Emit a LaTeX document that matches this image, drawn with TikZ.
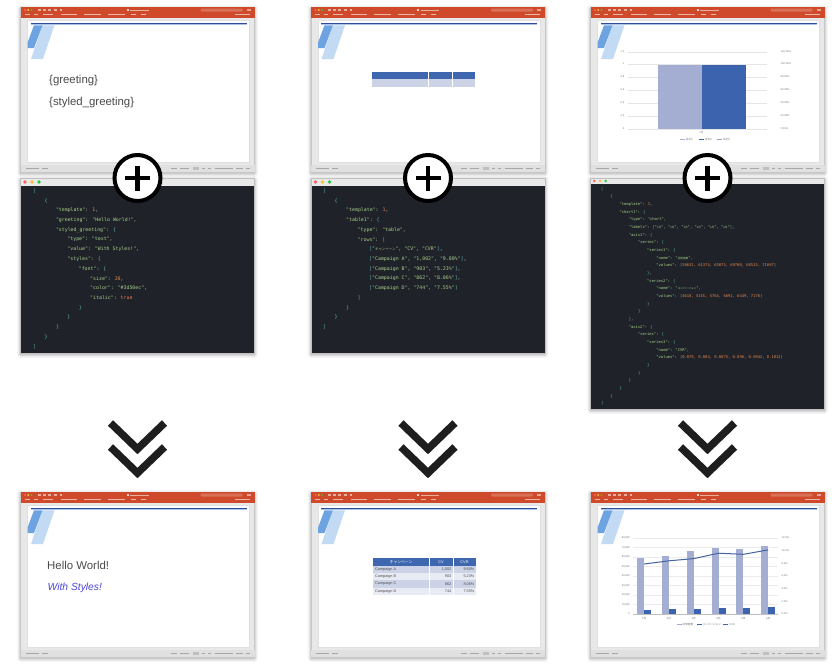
\documentclass[tikz,border=0pt]{standalone}
\usepackage{fontspec}
\setmainfont{Liberation Sans}
\newfontfamily\codefont{DejaVu Sans Mono}
\newfontfamily\cjk{Noto Sans CJK JP}
\newfontfamily\cjks{Noto Sans CJK JP}[Scale=0.7]
\definecolor{pptorange}{HTML}{CF4A2A}
\definecolor{winframe}{HTML}{E8E8E8}
\definecolor{statusbar}{HTML}{E0E0E0}
\definecolor{topline}{HTML}{2D4D96}
\definecolor{toplinelight}{HTML}{A9C4E8}
\definecolor{paradark}{HTML}{6EA3E2}
\definecolor{paralight}{HTML}{C2DAF3}
\definecolor{slidetext}{HTML}{4A4A4A}
\definecolor{styledblue}{HTML}{4E45D6}
\definecolor{tblhead}{HTML}{3E67B0}
\definecolor{tblrowa}{HTML}{CDD3E6}
\definecolor{tblrowb}{HTML}{E8EBF4}
\definecolor{barlight}{HTML}{A4AED3}
\definecolor{bardark}{HTML}{3B63AE}
\definecolor{cvrline}{HTML}{44639F}
\definecolor{codebg}{HTML}{1F2228}
\definecolor{codebar}{HTML}{E9E9E9}
\definecolor{ckey}{HTML}{A8D08D}
\definecolor{cbr}{HTML}{5BB5B9}
\definecolor{cnum}{HTML}{E5874F}
\definecolor{tlred}{HTML}{FF5F57}
\definecolor{tlyellow}{HTML}{FEBC2E}
\definecolor{tlgreen}{HTML}{28C840}
\definecolor{chev}{HTML}{1E1E1E}

\newcommand\Kc[1]{\textcolor{ckey}{#1}}
\newcommand\Bc[1]{\textcolor{cbr}{#1}}
\newcommand\Nc[1]{\textcolor{cnum}{#1}}
\newcounter{cline}
\newcommand\cl[2]{\stepcounter{cline}\node[codetxt, name=\cpfx-\the\value{cline}] at ({\cxo+#1*\cind},{\cyo+(\the\value{cline}-1)*\csp}) {#2};}

\newcommand\softshadow[4]{%
  \foreach \s/\o in {3.5/0.03,2.5/0.045,1.5/0.06,0.6/0.08}{%
    \fill[black,opacity=\o,rounded corners=\s pt] ({#1-\s},{#2-\s+1.5}) rectangle ({#3+\s},{#4+\s+1.5});
  }}

\newcommand\pptwin[3]{%
  \softshadow{#2}{#3}{#2+234}{#3+165}
  \begin{scope}[shift={(#2,#3)}]
    \node[fill=winframe, draw=black!22, line width=0.3pt, minimum width=234pt, minimum height=165pt,
          anchor=north west, inner sep=0pt, outer sep=0pt] (#1) at (0,0) {};
    \fill[pptorange] (0,0) rectangle (234,11);
    \fill[tlred] (4.5,3) circle (1.1pt);
    \fill[tlyellow] (7.7,3) circle (1.1pt);
    \fill[tlgreen] (10.9,3) circle (1.1pt);
    \foreach \a/\b in {17/20,22/25,27/30,33/36,39/41}{\fill[white,opacity=0.55] (\a,2.2) rectangle (\b,4);}
    \fill[white,opacity=0.75] (106,2.2) rectangle (108,4);
    \fill[white,opacity=0.55] (109.5,2.6) rectangle (128,3.6);
    \fill[white,opacity=0.22,rounded corners=1pt] (180,1.5) rectangle (222,4.6);
    \fill[white,opacity=0.5] (226,1.8) rectangle (230,4.3);
    \foreach \a/\b in {4/9,13/17,22/32,40/56,63/80,87/104,110/115,120/125}{\fill[white,opacity=0.6] (\a,6.9) rectangle (\b,8.3);}
    \fill[white,opacity=0.6] (214,6.9) rectangle (229,8.3);
    \fill[white] (7,13) rectangle (229,155);
    \draw[black!12,line width=0.3pt] (7,13) rectangle (229,155);
    \fill[topline] (10,16) rectangle (226,17.4);
    \fill[toplinelight] (10,17.4) rectangle (226,18.3);
    \begin{scope}
      \clip (7,13) rectangle (229,155);
      \fill[paralight] (22,18.3) -- (34,18.3) -- (22.5,52) -- (10.5,52) -- cycle;
      \fill[paradark] (13.5,18.3) -- (22,18.3) -- (13.5,41) -- (5,41) -- cycle;
    \end{scope}
    \fill[statusbar] (0,158) rectangle (234,165);
    \foreach \a/\b in {5/18,21/27,150/156,159/168,181/184,187/190,194/212,215/222,225/229}{\fill[black!35] (\a,161) rectangle (\b,162);}
    \fill[black!25] (172,159.8) rectangle (178,163.2);
  \end{scope}}

\newcommand\codewin[6]{%
  \softshadow{#2}{#3}{#4}{#5}
  \path[fill=codebg] (#2,#3) coordinate (#1-nw) rectangle (#4,#5) coordinate (#1-se);
  \fill[codebar] (#2,#3) rectangle (#4,{#3+#6});
  \draw[black!25, line width=0.3pt] (#2,#3) rectangle (#4,#5);}

\begin{document}
\begin{tikzpicture}[x=1pt,y=-1pt,
  codetxt/.style={anchor=west, inner sep=0pt, text=ckey, font=\codefont\fontsize{\cfs}{\cfs}\selectfont},
  slidetxt/.style={anchor=base west, inner sep=0pt, text=slidetext, font=\fontsize{11.4}{12}\selectfont},
  tinytxt/.style={inner sep=0pt, text=black!55, font=\fontsize{2.6}{3}\selectfont},
  tbltxt/.style={inner sep=0pt, text=black!70, font=\fontsize{3.8}{4}\selectfont},
  plusc/.style={circle, draw=black, line width=4pt, fill=white, minimum size=46pt, inner sep=0pt},
  plusbar/.style={line width=4.6pt, black},
  chevron/.style={line width=7.5pt, chev, line join=miter},
]
\useasboundingbox (0,0) rectangle (840,670);
\fill[white] (0,0) rectangle (840,670);

% ================= top templates =================
\pptwin{win1}{20.5}{7}
\begin{scope}[shift={(20.5,7)}]
  \node[slidetxt] (tplgreet) at (28.5,76) {\{greeting\}};
  \node[slidetxt] (tplstyled) at (28.5,98.5) {\{styled\_greeting\}};
\end{scope}

\pptwin{win2}{311}{7}
\begin{scope}[shift={(311,7)}]
  \fill[tblhead] (61,65) rectangle (164,72.3);
  \fill[tblrowa] (61,72.3) rectangle (164,80);
  \draw[white, line width=0.5pt] (117,65) -- (117,80) (141,65) -- (141,80);
\end{scope}

\pptwin{win3}{590.5}{7}
\begin{scope}[shift={(590.5,7)}]
  \foreach \yy/\ll/\rr in {45/1.2/120.00\%,57/1/100.00\%,70/0.8/80.00\%,83/0.6/60.00\%,96/0.4/40.00\%,109/0.2/20.00\%,122/0/0.00\%}{
    \draw[black!10, line width=0.3pt] (37,\yy) -- (176,\yy);
    \node[tinytxt, anchor=east] at (34,\yy) {\ll};
    \node[tinytxt, anchor=west] at (190,\yy) {\rr};
  }
  \fill[barlight] (67,57.5) rectangle (111,122);
  \fill[bardark] (111,57.5) rectangle (155,122);
  \node[tinytxt] at (111,126) {\cjk 1月};
  \fill[barlight] (89.5,131.5) rectangle (94.5,132.7);
  \node[tinytxt, anchor=west] at (95.5,132.1) {\cjk 系列1};
  \fill[bardark] (108.5,131.5) rectangle (113.5,132.7);
  \node[tinytxt, anchor=west] at (114.5,132.1) {\cjk 系列2};
  \fill[barlight!80!bardark] (126.5,131.5) rectangle (131.5,132.7);
  \node[tinytxt, anchor=west] at (132.5,132.1) {\cjk 系列3};
\end{scope}

% ================= code panels =================
\codewin{code1}{20.5}{178}{254.5}{353}{8}
\fill[tlred] (25,182) circle (1.9pt);
\fill[tlyellow] (32,182) circle (1.9pt);
\fill[tlgreen] (39,182) circle (1.9pt);
\def\cpfx{c1}\def\cxo{33}\def\cyo{191}\def\cind{11.4}\def\csp{9.73}\def\cfs{4.9}
\setcounter{cline}{0}
\cl{0}{\Bc{[}}
\cl{1}{\Bc{\{}}
\cl{2}{\Kc{"template": }\Nc{1}\Kc{,}}
\cl{2}{\Kc{"greeting": "Hello World!",}}
\cl{2}{\Kc{"styled\_greeting": }\Bc{\{}}
\cl{3}{\Kc{"type": "text",}}
\cl{3}{\Kc{"value": "With Styles!",}}
\cl{3}{\Kc{"styles": }\Bc{\{}}
\cl{4}{\Kc{"font": }\Bc{\{}}
\cl{5}{\Kc{"size": }\Nc{20}\Kc{,}}
\cl{5}{\Kc{"color": "\#3d50ec",}}
\cl{5}{\Kc{"italic": }\Nc{true}}
\cl{4}{\Bc{\}}}
\cl{3}{\Bc{\}}}
\cl{2}{\Bc{\}}}
\cl{1}{\Bc{\}}}
\cl{0}{\Bc{]}}

\codewin{code2}{311}{178}{545}{353}{8}
\fill[tlred] (315.5,182) circle (1.9pt);
\fill[tlyellow] (322.5,182) circle (1.9pt);
\fill[tlgreen] (329.5,182) circle (1.9pt);
\def\cpfx{c2}\def\cxo{323}\def\cyo{191}\def\cind{11.5}\def\csp{9.73}\def\cfs{4.9}
\setcounter{cline}{0}
\cl{0}{\Bc{[}}
\cl{1}{\Bc{\{}}
\cl{2}{\Kc{"template": }\Nc{1}\Kc{,}}
\cl{2}{\Kc{"table1": }\Bc{\{}}
\cl{3}{\Kc{"type": "table",}}
\cl{3}{\Kc{"rows": }\Bc{[}}
\cl{4}{\Bc{[}\Kc{"{\cjks キャンペーン}", "CV", "CVR"}\Bc{]}\Kc{,}}
\cl{4}{\Bc{[}\Kc{"Campaign A", "1,002", "9.80\%"}\Bc{]}\Kc{,}}
\cl{4}{\Bc{[}\Kc{"Campaign B", "903", "5.23\%"}\Bc{]}\Kc{,}}
\cl{4}{\Bc{[}\Kc{"Campaign C", "862", "8.06\%"}\Bc{]}\Kc{,}}
\cl{4}{\Bc{[}\Kc{"Campaign D", "744", "7.55\%"}\Bc{]}}
\cl{3}{\Bc{]}}
\cl{2}{\Bc{\}}}
\cl{1}{\Bc{\}}}
\cl{0}{\Bc{]}}

\codewin{code3}{590.5}{178}{824.5}{409}{6}
\fill[tlred] (594.3,181) circle (1.4pt);
\fill[tlyellow] (600,181) circle (1.4pt);
\fill[tlgreen] (605.7,181) circle (1.4pt);
\def\cpfx{c3}\def\cxo{601}\def\cyo{189}\def\cind{9.2}\def\csp{7.67}\def\cfs{3.8}
\setcounter{cline}{0}
\cl{0}{\Bc{[}}
\cl{1}{\Bc{\{}}
\cl{2}{\Kc{"template": }\Nc{1}\Kc{,}}
\cl{2}{\Kc{"chart1": }\Bc{\{}}
\cl{3}{\Kc{"type": "chart",}}
\cl{3}{\Kc{"labels": }\Bc{[}\Kc{"{\cjks 1月}", "{\cjks 2月}", "{\cjks 3月}", "{\cjks 4月}", "{\cjks 5月}", "{\cjks 6月}"}\Bc{]}\Kc{,}}
\cl{3}{\Kc{"axis1": }\Bc{\{}}
\cl{4}{\Kc{"series": }\Bc{\{}}
\cl{5}{\Kc{"series1": }\Bc{\{}}
\cl{6}{\Kc{"name": "{\cjks 訪問者数}",}}
\cl{6}{\Kc{"values": }\Bc{[}\Nc{58632, 61374, 65875, 69700, 68525, 71897}\Bc{]}}
\cl{5}{\Bc{\}}\Kc{,}}
\cl{5}{\Kc{"series2": }\Bc{\{}}
\cl{6}{\Kc{"name": "{\cjks コンバージョン}",}}
\cl{6}{\Kc{"values": }\Bc{[}\Nc{4618, 5155, 5764, 6691, 6449, 7276}\Bc{]}}
\cl{5}{\Bc{\}}}
\cl{4}{\Bc{\}}}
\cl{3}{\Bc{\}}\Kc{,}}
\cl{3}{\Kc{"axis2": }\Bc{\{}}
\cl{4}{\Kc{"series": }\Bc{\{}}
\cl{5}{\Kc{"series3": }\Bc{\{}}
\cl{6}{\Kc{"name": "CVR",}}
\cl{6}{\Kc{"values": }\Bc{[}\Nc{0.079, 0.084, 0.0875, 0.096, 0.0942, 0.1012}\Bc{]}}
\cl{5}{\Bc{\}}}
\cl{4}{\Bc{\}}}
\cl{3}{\Bc{\}}}
\cl{2}{\Bc{\}}}
\cl{1}{\Bc{\}}}
\cl{0}{\Bc{]}}

% ================= plus circles =================
\foreach \cx/\nm in {137.5/plus1, 428/plus2, 707.5/plus3}{
  \node[plusc] (\nm) at (\cx,178) {};
  \draw[plusbar] ([xshift=-12.5pt]\nm.center) -- ([xshift=12.5pt]\nm.center);
  \draw[plusbar] ([yshift=-12.5pt]\nm.center) -- ([yshift=12.5pt]\nm.center);
}

% ================= chevrons =================
\foreach \cx in {137.5, 428, 707.5}{
  \draw[chevron] ({\cx-27},423) -- (\cx,449) -- ({\cx+27},423);
  \draw[chevron] ({\cx-27},447) -- (\cx,473) -- ({\cx+27},447);
}

% ================= bottom results =================
\pptwin{res1}{20.5}{492}
\begin{scope}[shift={(20.5,492)}]
  \node[slidetxt] (hello) at (26.5,77) {Hello World!};
  \node[slidetxt, text=styledblue, font=\fontsize{10.3}{11}\itshape] (styled) at (27,98) {With Styles!};
\end{scope}

\pptwin{res2}{311}{492}
\begin{scope}[shift={(311,492)}]
  \fill[tblhead] (62,66.3) rectangle (165,73.5);
  \node[tbltxt, text=white] (th1) at (90,69.9) {\cjk キャンペーン};
  \node[tbltxt, text=white] (th2) at (130,69.9) {CV};
  \node[tbltxt, text=white] (th3) at (153.5,69.9) {CVR};
  \foreach \nm/\cv/\cvr [count=\i] in {Campaign A/{1,002}/9.80\%, Campaign B/903/5.23\%, Campaign C/862/8.06\%, Campaign D/744/7.55\%}{
    \ifodd\i \def\rc{tblrowa}\else\def\rc{tblrowb}\fi
    \fill[\rc] (62,{73.5+(\i-1)*7.4}) rectangle (165,{73.5+\i*7.4});
    \node[tbltxt, anchor=west] (r\i a) at (64,{73.5+(\i-0.5)*7.4}) {\nm};
    \node[tbltxt, anchor=east] (r\i b) at (140.5,{73.5+(\i-0.5)*7.4}) {\cv};
    \node[tbltxt, anchor=east] (r\i c) at (163.5,{73.5+(\i-0.5)*7.4}) {\cvr};
  }
  \draw[white, line width=0.5pt] (118,66.3) -- (118,103.1) (142,66.3) -- (142,103.1);
\end{scope}

\pptwin{res3}{590.5}{492}
\begin{scope}[shift={(590.5,492)}]
  \foreach \lab [count=\j from 0] in {0,{10,000},{20,000},{30,000},{40,000},{50,000},{60,000},{70,000},{80,000}}{
    \draw[black!8, line width=0.3pt] (42,{122-\j*9.5}) -- (187,{122-\j*9.5});
    \node[tinytxt, anchor=east] at (39.5,{122-\j*9.5}) {\lab};
  }
  \draw[black!25, line width=0.3pt] (42,122) -- (187,122);
  \foreach \lab [count=\j from 0] in {0.0\%,2.0\%,4.0\%,6.0\%,8.0\%,10.0\%,12.0\%}{
    \node[tinytxt, anchor=west] at (191,{122-\j*12.667}) {\lab};
  }
  \foreach \a/\b [count=\k from 0] in {55.7/4.4, 58.3/4.9, 62.6/5.5, 66.2/6.4, 65.1/6.1, 68.3/6.9}{
    \pgfmathsetmacro\L{46.7+24.8*\k}
    \pgfmathtruncatemacro\mm{\k+1}
    \fill[barlight] (\L,{122-\a}) rectangle ({\L+7},122);
    \fill[bardark] ({\L+7},{122-\b}) rectangle ({\L+14},122);
    \node[tinytxt] at ({\L+7},126.5) {\cjk \mm 月};
  }
  \draw[cvrline, line width=1pt, line join=round] (53.7,72.0) -- (78.5,68.8) -- (103.3,66.6) -- (128.1,61.2) -- (152.9,62.3) -- (177.7,57.9);
  \fill[barlight] (86,131.5) rectangle (91,132.8);
  \node[tinytxt, anchor=west] at (92,132.1) {\cjk 訪問者数};
  \fill[bardark] (106,131.5) rectangle (111,132.8);
  \node[tinytxt, anchor=west] at (112,132.1) {\cjk コンバージョン};
  \draw[cvrline, line width=0.9pt] (132.5,132.1) -- (137.5,132.1);
  \node[tinytxt, anchor=west] at (138.5,132.1) {CVR};
\end{scope}
\end{tikzpicture}
\end{document}
